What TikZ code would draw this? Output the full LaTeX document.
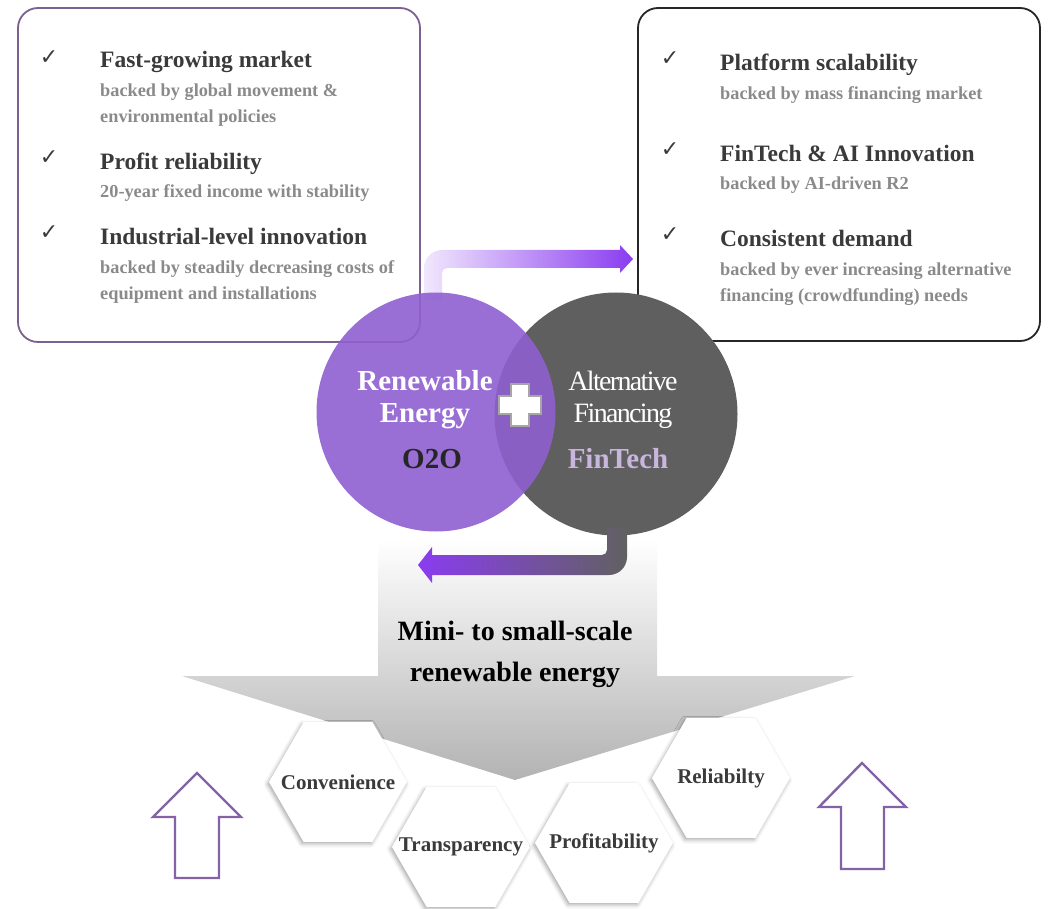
\documentclass[tikz,border=0pt]{standalone}
\usepackage{fontspec}
\setmainfont{Liberation Serif}
\newfontfamily\checkfont{DejaVu Sans}
\usepackage{tikz}
\usetikzlibrary{shapes.geometric,shadows.blur}
\definecolor{lila}{HTML}{8E5FD0}
\definecolor{graycirc}{HTML}{5F5F5F}
\definecolor{boxlila}{HTML}{7B6191}
\definecolor{uplila}{HTML}{8462A6}
\definecolor{arrowlila}{HTML}{8A3CF0}
\definecolor{fintech}{HTML}{C9B6DE}
\definecolor{headgray}{HTML}{3A3A3A}
\definecolor{subgray}{HTML}{8A8A8A}

\begin{document}
\begin{tikzpicture}[x=1pt,y=-1pt,
  head/.style={anchor=base west,inner sep=0pt,text=headgray,font=\bfseries\fontsize{23.5}{26}\selectfont},
  sub/.style={anchor=base west,inner sep=0pt,align=left,text=subgray,font=\bfseries\fontsize{18.3}{26.5}\selectfont},
  tick/.style={text=headgray,font=\checkfont\fontsize{22}{24}\selectfont},
  circtext/.style={font=\bfseries\fontsize{29}{32}\selectfont},
  thintext/.style={text=white,font=\fontsize{28}{32}\selectfont\addfontfeature{LetterSpace=-6}},
  hex/.style={regular polygon,regular polygon sides=6,minimum size=138pt,inner sep=0pt,fill=white,
    blur shadow={shadow xshift=-1.5pt,shadow yshift=-2pt,shadow blur radius=4pt,shadow opacity=35}},
  hextext/.style={text=headgray,font=\bfseries\fontsize{21}{24}\selectfont},
  uparrow/.style={draw=uplila,line width=2.4pt,fill=white}]
\useasboundingbox (0,0) rectangle (1050,909);

% the two boxes
\node[draw=boxlila,line width=1.8pt,rounded corners=20pt,minimum width=402pt,minimum height=334pt] (lb) at (219,175) {};
\node[draw=black!85,line width=1.8pt,rounded corners=20pt,minimum width=402pt,minimum height=333pt] (rb) at (839,174.5) {};

% left box
\node[tick] (l1) at (49,58) {✓};
\node[tick] (l2) at (49,158) {✓};
\node[tick] (l3) at (49,233) {✓};
\node[head] (a) at (100,68) {Fast-growing market};
\node[sub] (a1) at (100,123) {backed by global movement \&\\environmental policies};
\node[head] (b) at (100,170) {Profit reliability};
\node[sub] (b1) at (100,198) {20-year fixed income with stability};
\node[head] (c) at (100,245) {Industrial-level innovation};
\node[sub] (c1) at (100,300) {backed by steadily decreasing costs of\\equipment and installations};

% right box
\node[tick] (r1) at (670,59) {✓};
\node[tick] (r2) at (670,150) {✓};
\node[tick] (r3) at (670,235) {✓};
\node[head] (d) at (720,71) {Platform scalability};
\node[sub] (d1) at (720,100) {backed by mass financing market};
\node[head] (e) at (720,162) {FinTech \& AI Innovation};
\node[sub] (e1) at (720,190) {backed by AI-driven R2};
\node[head] (f) at (720,247) {Consistent demand};
\node[sub] (f1) at (720,302) {backed by ever increasing alternative\\financing (crowdfunding) needs};

% bent arrow on top
\shade[left color=arrowlila!12,right color=arrowlila] (424,300) [rounded corners=18pt] -- (424,250) [sharp corners] -- (620,250) -- (620,245) -- (633,259) -- (620,273) -- (620,268) [rounded corners=5pt] -- (442,268) [sharp corners] -- (442,300) -- cycle;

% circles
\node[circle,fill=graycirc,minimum size=243pt] (af) at (616,414) {};
\node[circle,fill=lila,fill opacity=0.9,minimum size=239pt] (re) at (436,412) {};
\draw[fill=white,draw=black!35,line width=1.6pt] (511,384) -- (529,384) -- (529,396) -- (541,396) -- (541,414) -- (529,414) -- (529,426) -- (511,426) -- (511,414) -- (499,414) -- (499,396) -- (511,396) -- cycle;
\node[circtext,text=white] (t1) at (425,381) {Renewable};
\node[circtext,text=white] (t2) at (425,416) {Energy};
\node[circtext,text=black!85] (t3) at (432,459) {O2O};
\node[thintext] (t4) at (623,381) {Alternative};
\node[thintext] (t5) at (623,416) {Financing};
\node[circtext,text=fintech] (t6) at (618,459) {FinTech};

% big grey arrow
\shade[top color=white,bottom color=black!30] (378,540) -- (657,540) -- (657,676) -- (855,676) -- (515,780) -- (182,676) -- (378,676) -- cycle;
\node[font=\bfseries\fontsize{28}{30}\selectfont,text=black] (m1) at (515,631) {Mini- to small-scale};
\node[font=\bfseries\fontsize{28}{30}\selectfont,text=black] (m2) at (515,675) {renewable energy};

% bent arrow below
\shade[left color=arrowlila,right color=black!62] (607,528) [rounded corners=5pt] -- (607,555) [sharp corners] -- (432,555) -- (432,547) -- (418,565) -- (432,583) -- (432,575) [rounded corners=18pt] -- (627,575) [sharp corners] -- (627,528) -- cycle;

% hexagons
\node[hex] (h1) at (338,782) {};
\node[hex] (h2) at (461,847) {};
\node[hex] (h3) at (604,843) {};
\node[hex] (h4) at (721,778) {};
\node[hextext] at (h1) {Convenience};
\node[hextext] at (h2) {Transparency};
\node[hextext] at (h3) {Profitability};
\node[hextext] at (h4) {Reliabilty};

% up arrows
\draw[uparrow] (175,878) -- (175,817) -- (153,817) -- (197,773) -- (241,817) -- (219,817) -- (219,878) -- cycle;
\draw[uparrow] (841,869) -- (841,807) -- (819,807) -- (862,763) -- (906,807) -- (884,807) -- (884,869) -- cycle;
\end{tikzpicture}
\end{document}
